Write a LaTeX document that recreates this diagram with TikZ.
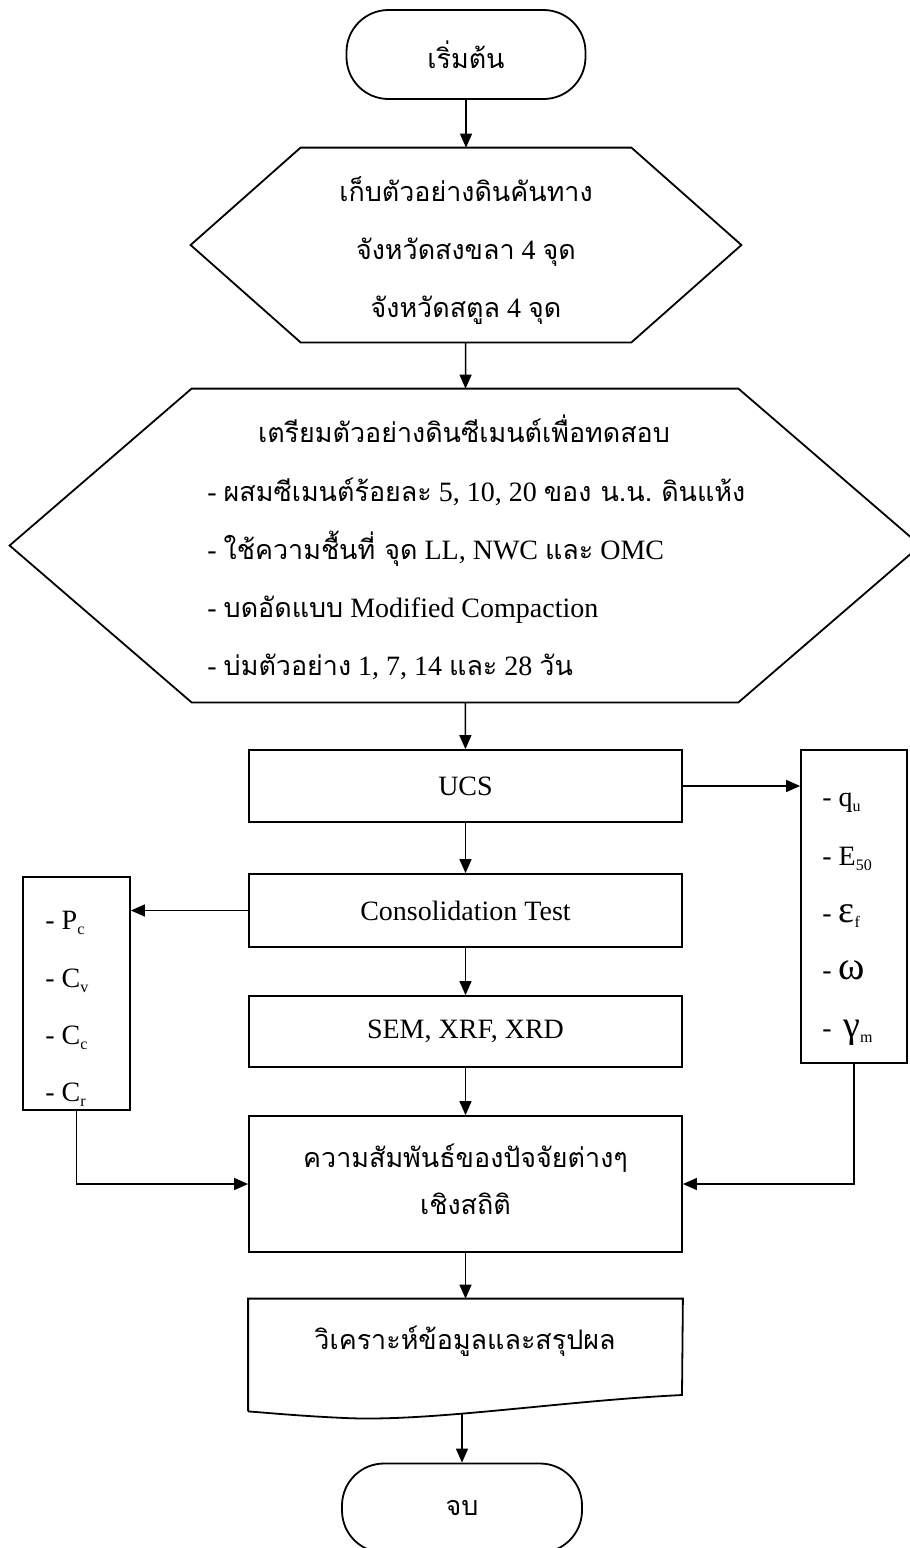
\documentclass[tikz,border=0pt]{standalone}
\usepackage{fontspec}
\setmainfont{Liberation Serif}
\newfontfamily\thaifont[Script=Thai, Scale=0.96]{Loma}
\newcommand{\thai}[1]{{\thaifont #1}}
\newcommand{\lowsub}[1]{\raisebox{-0.45ex}{\fontsize{8}{8}\selectfont #1}}
\frenchspacing
\usetikzlibrary{calc,
	positioning,
	arrows.meta}

\tikzset{
	flow/.style={-{Triangle[length=7pt, width=6pt]}, line width=0.75pt},
	outline/.style={line width=0.9pt},
	term/.style={draw, outline, rounded corners=21pt, minimum width=119.5pt, minimum height=44.5pt, font=\fontsize{14}{17}\selectfont},
	procbox/.style={draw, outline, minimum width=216.5pt, font=\fontsize{14}{17}\selectfont},
	shapebox/.style={inner sep=0pt},
	sidebox/.style={draw, outline, minimum width=53pt},
	itemtext/.style={anchor=base west, inner sep=0pt, font=\fontsize{14}{17}\selectfont},
	linetext/.style={anchor=base, inner sep=0pt, font=\fontsize{14}{17}\selectfont}
}

\begin{document}
\begin{tikzpicture}[x=0.5pt, y=-0.5pt]
	\useasboundingbox (0, 0) rectangle (910, 1548);

	\node[term] (start) at (466, 54.5) {\thai{เริ่มต้น}};

	\node[shapebox, minimum width=165pt, minimum height=97pt] (collect) at (466, 245) {};
	\draw[outline] (collect.north west) -- (collect.north east) -- ($(collect.east)+(110, 0)$) -- (collect.south east) -- (collect.south west) -- ($(collect.west)-(110, 0)$) -- cycle;
	\node[linetext] (collect1) at (466, 201) {\thai{เก็บตัวอย่างดินคันทาง}};
	\node[linetext] (collect2) at (466, 259) {\thai{จังหวัดสงขลา} 4 \thai{จุด}};
	\node[linetext] (collect3) at (466, 317) {\thai{จังหวัดสตูล} 4 \thai{จุด}};

	\node[shapebox, minimum width=273pt, minimum height=156.5pt] (prep) at (465, 545.5) {};
	\draw[outline] (prep.north west) -- (prep.north east) -- ($(prep.east)+(182, 0)$) -- (prep.south east) -- (prep.south west) -- ($(prep.west)-(182, 0)$) -- cycle;
	\node[linetext] (prep0) at (464, 442) {\thai{เตรียมตัวอย่างดินซีเมนต์เพื่อทดสอบ}};
	\node[itemtext] (prep1) at (207, 501) {- \thai{ผสมซีเมนต์ร้อยละ} 5, 10, 20 \thai{ของ น.น. ดินแห้ง}};
	\node[itemtext] (prep2) at (207, 559) {- \thai{ใช้ความชื้นที่ จุด} LL, NWC \thai{และ} OMC};
	\node[itemtext] (prep3) at (207, 617) {- \thai{บดอัดแบบ} Modified Compaction};
	\node[itemtext] (prep4) at (207, 675) {- \thai{บ่มตัวอย่าง} 1, 7, 14 \thai{และ} 28 \thai{วัน}};

	\node[procbox, minimum height=36pt] (ucs) at (465.5, 786) {UCS};
	\node[procbox, minimum height=36.5pt] (consol) at (465.5, 910.5) {Consolidation Test};
	\node[procbox, minimum height=35.5pt] (sem) at (465.5, 1031.5) {SEM, XRF, XRD};
	\node[procbox, minimum height=68pt] (rel) at (465.5, 1184) {};
	\node[linetext] (rel1) at (465.5, 1167) {\thai{ความสัมพันธ์ของปัจจัยต่างๆ}};
	\node[linetext] (rel2) at (465.5, 1214) {\thai{เชิงสถิติ}};

	\node[shapebox, minimum width=217pt, minimum height=56pt] (doc) at (465.5, 1355) {};
	\draw[outline] (doc.south west) -- (doc.north west) -- (doc.north east) -- (682, 1395) .. controls (560, 1401) and (430, 1422) .. (345, 1418) .. controls (300, 1416) and (270, 1413) .. (doc.south west);
	\node[linetext] (doc1) at (465, 1349) {\thai{วิเคราะห์ข้อมูลและสรุปผล}};

	\node[term, minimum width=120pt] (end) at (462, 1508) {\thai{จบ}};

	\node[sidebox, minimum height=156.5pt] (qbox) at (854, 906.5) {};
	\node[itemtext] (q1) at (822, 806) {- q\lowsub{u}};
	\node[itemtext] (q2) at (822, 865) {- E\lowsub{50}};
	\node[itemtext] (q3) at (822, 922) {- {\fontsize{19}{19}\selectfont ε}\lowsub{f}};
	\node[itemtext] (q4) at (822, 979) {- {\fontsize{20}{20}\selectfont ω}};
	\node[itemtext] (q5) at (822, 1037) {- \,{\fontsize{19}{19}\selectfont γ}\lowsub{m}};

	\node[sidebox, minimum width=53.5pt, minimum height=116.5pt] (pbox) at (76.5, 993.5) {};
	\node[itemtext] (p1) at (45, 929) {- P\lowsub{c}};
	\node[itemtext] (p2) at (45, 987) {- C\lowsub{v}};
	\node[itemtext] (p3) at (45, 1044) {- C\lowsub{c}};
	\node[itemtext] (p4) at (45, 1101) {- C\lowsub{r}};

	\draw[flow] (start) -- (collect);
	\draw[flow] (collect) -- (prep);
	\draw[flow] (prep) -- (ucs);
	\draw[flow] (ucs) -- (consol);
	\draw[flow] (consol) -- (sem);
	\draw[flow] (sem) -- (rel);
	\draw[flow] (rel) -- (doc);
	\draw[flow] ([yshift=-1pt]doc.south -| end.north) -- (end.north);
	\draw[flow] (ucs.east) -- (ucs.east -| qbox.west);
	\draw[flow] (consol.west) -- (consol.west -| pbox.east);
	\draw[flow] (pbox.south) |- (rel.west);
	\draw[flow] (qbox.south) |- (rel.east);
\end{tikzpicture}
\end{document}
